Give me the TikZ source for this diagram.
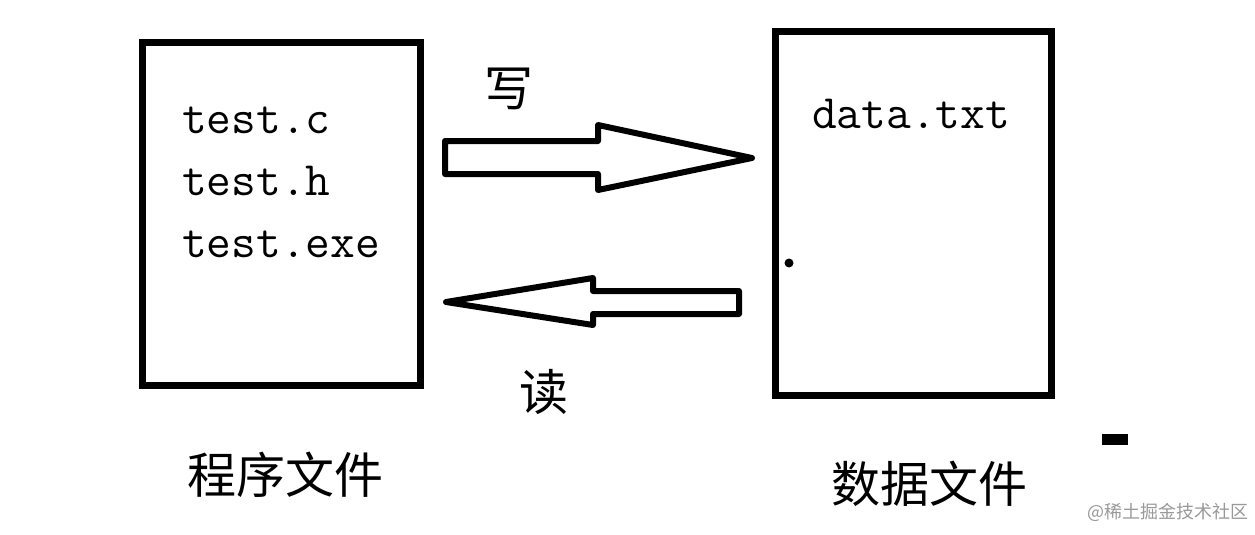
\documentclass[tikz,border=0pt]{standalone}
\usepackage{fontspec}
\newfontfamily\cjk{Noto Sans CJK SC}
\begin{document}
\begin{tikzpicture}[x=1pt,y=-1pt,
  filebox/.style={draw=black,line width=7pt,minimum width=#1,inner sep=0pt},
  code/.style={anchor=base west,inner sep=0pt,font=\ttfamily\fontsize{48}{60}\selectfont},
  label/.style={inner sep=0pt,font=\cjk\fontsize{49}{52}\selectfont},
  bigarrow/.style={draw=black,line width=6pt,line join=round,fill=white}]
\useasboundingbox (0,0) rectangle (1255,535);
\fill[white] (0,0) rectangle (1255,535);
% boxes
\node[filebox=278pt,minimum height=343pt] (prog) at (281.5,214) {};
\node[filebox=276pt,minimum height=364pt] (data) at (913.5,213.5) {};
% texts in boxes
\node[code] (tc) at (182,133) {test.c};
\node[code] (th) at (182,195) {test.h};
\node[code] (te) at (182,257) {test.exe};
\node[code] (dt) at (812,128) {data.txt};
% arrows
\coordinate (w1) at (445,141);
\coordinate (w2) at (598,141);
\coordinate (w3) at (598,125);
\coordinate (w4) at (752,158);
\coordinate (w5) at (598,190);
\coordinate (w6) at (598,174);
\coordinate (w7) at (445,174);
\draw[bigarrow] (w1) -- (w2) -- (w3) -- (w4) -- (w5) -- (w6) -- (w7) -- cycle;
\coordinate (r1) at (739,291);
\coordinate (r2) at (593,291);
\coordinate (r3) at (593,278);
\coordinate (r4) at (446,302);
\coordinate (r5) at (593,325);
\coordinate (r6) at (593,314);
\coordinate (r7) at (739,314);
\draw[bigarrow] (r1) -- (r2) -- (r3) -- (r4) -- (r5) -- (r6) -- (r7) -- cycle;
% labels
\node[label] (write) at (509,89) {写};
\node[label] (read) at (544,392) {读};
\node[label] (progl) at (285,475) {程序文件};
\node[label] (datal) at (929,484) {数据文件};
% small marks
\fill[black] (789,263) circle (4.5);
\fill[black] (1102,434) rectangle (1128,445);
% watermark
\node[inner sep=0pt,text=black!40,font=\cjk\fontsize{18}{20}\selectfont] (wm) at (1168,512) {@稀土掘金技术社区};
\end{tikzpicture}
\end{document}
